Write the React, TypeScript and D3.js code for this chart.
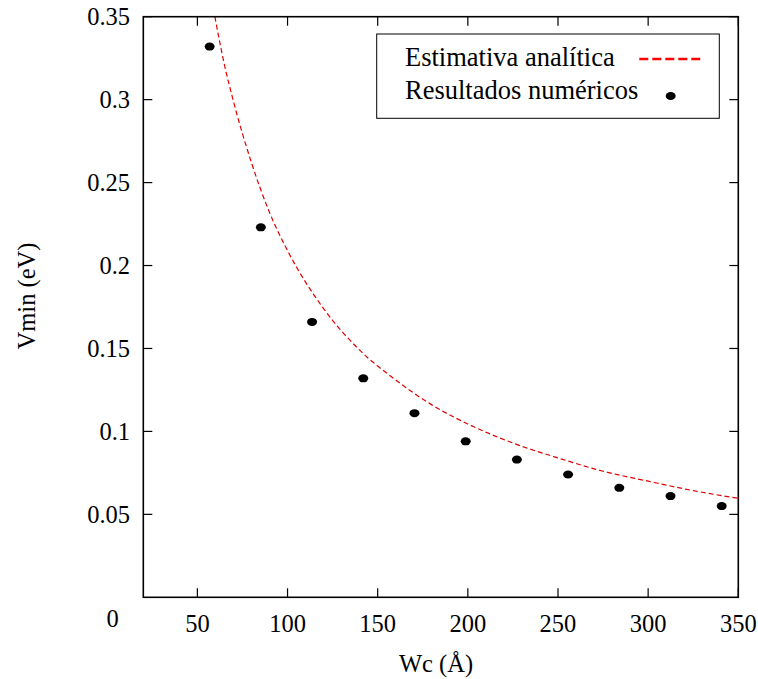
import React from "react";
import * as d3 from "d3";

// Numerical results (points)
const wcValues = [56.8, 85.2, 113.6, 142.0, 170.4, 198.8, 227.2, 255.6, 284.0, 312.4, 340.8];
const vminValues = [0.332, 0.223, 0.166, 0.132, 0.111, 0.094, 0.083, 0.074, 0.066, 0.061, 0.055];

// Analytic estimate (dashed curve)
const curveX = [59.7, 65, 70, 80, 90, 100, 120, 140, 160, 180, 200, 225, 250, 275, 300, 325, 350];
const curveY = [0.35, 0.321, 0.299, 0.262, 0.232, 0.209, 0.174, 0.149, 0.131, 0.116, 0.1045, 0.093, 0.084, 0.076, 0.070, 0.0643, 0.0597];

const xTicks = [50, 100, 150, 200, 250, 300, 350];
const yTicks = [0.05, 0.1, 0.15, 0.2, 0.25, 0.3, 0.35];

const legendLabels = ["Estimativa analítica", "Resultados numéricos"];
const xLabel = "Wc (Å)";
const yLabel = "Vmin (eV)";

const W = 758;
const H = 679;
const left = 143.3;
const right = 738.3;
const top = 16.7;
const bottom = 597.3;
const FONT = "'Liberation Serif', 'Times New Roman', serif";

export default function App() {
  const x = d3.scaleLinear().domain([20, 350]).range([left, right]);
  const y = d3.scaleLinear().domain([0, 0.35]).range([bottom, top]);

  const curvePts: [number, number][] = curveX.map((v, i) => [v, curveY[i]]);
  const line = d3
    .line<[number, number]>()
    .x((d) => x(d[0]))
    .y((d) => y(d[1]))
    .curve(d3.curveMonotoneX);

  const tickLen = 9;

  return (
    <svg
      width={W}
      height={H}
      style={{ position: "absolute", left: 0, top: 0, background: "#fff" }}
      fontFamily={FONT}
    >
      <defs>
        <clipPath id="plotclip">
          <rect x={left} y={top} width={right - left} height={bottom - top} />
        </clipPath>
      </defs>

      {/* ticks */}
      {xTicks.map((t) => (
        <g key={"xt" + t}>
          <line x1={x(t)} x2={x(t)} y1={bottom} y2={bottom - tickLen} stroke="#000" strokeWidth={1.2} />
          <line x1={x(t)} x2={x(t)} y1={top} y2={top + tickLen} stroke="#000" strokeWidth={1.2} />
          <text x={x(t)} y={632} textAnchor="middle" fontSize={24.5} fill="#000">
            {t}
          </text>
        </g>
      ))}
      {yTicks.map((t) => (
        <g key={"yt" + t}>
          <line x1={left} x2={left + tickLen} y1={y(t)} y2={y(t)} stroke="#000" strokeWidth={1.2} />
          <line x1={right} x2={right - tickLen} y1={y(t)} y2={y(t)} stroke="#000" strokeWidth={1.2} />
          <text x={130} y={y(t) + 8.5} textAnchor="end" fontSize={24.5} fill="#000">
            {String(t)}
          </text>
        </g>
      ))}
      <text x={112.5} y={627} textAnchor="middle" fontSize={24.5} fill="#000">
        0
      </text>

      {/* analytic curve */}
      <path
        d={line(curvePts) || ""}
        fill="none"
        stroke="#e00000"
        strokeWidth={1.2}
        strokeDasharray="5,3"
        clipPath="url(#plotclip)"
      />

      {/* points */}
      {wcValues.map((v, i) => (
        <ellipse key={"p" + i} cx={x(v)} cy={y(vminValues[i])} rx={5} ry={4} fill="#000" />
      ))}

      {/* legend */}
      <rect x={376.7} y={34} width={342.6} height={84.3} fill="#fff" stroke="#000" strokeWidth={1} />
      <text x={405} y={66} fontSize={26.5} fill="#000">
        {legendLabels[0]}
      </text>
      <line x1={639.3} x2={702.7} y1={59} y2={59} stroke="#ff0000" strokeWidth={2.5} strokeDasharray="9,4" />
      <text x={405} y={99} fontSize={26.5} fill="#000">
        {legendLabels[1]}
      </text>
      <ellipse cx={670.7} cy={96} rx={5} ry={4} fill="#000" />

      {/* frame */}
      <rect x={left} y={top} width={right - left} height={bottom - top} fill="none" stroke="#000" strokeWidth={1.6} />

      {/* axis labels */}
      <text x={436} y={672} textAnchor="middle" fontSize={24.5} fill="#000">
        {xLabel}
      </text>
      <text
        transform={`translate(35, 296) rotate(-90)`}
        textAnchor="middle"
        fontSize={24.5}
        fill="#000"
      >
        {yLabel}
      </text>
    </svg>
  );
}
